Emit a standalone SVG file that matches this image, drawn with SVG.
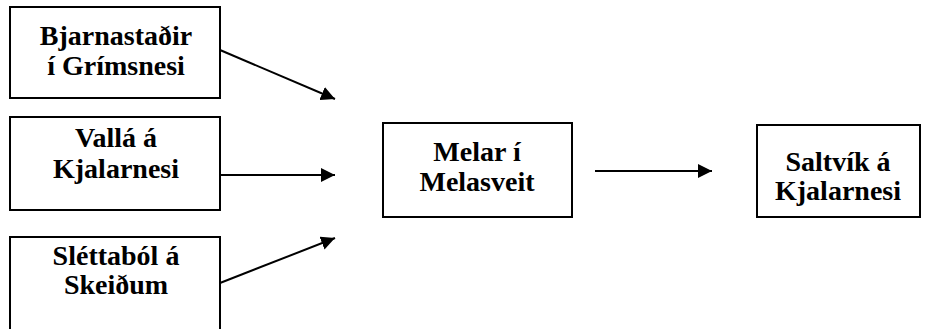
<svg xmlns="http://www.w3.org/2000/svg" width="933" height="329" viewBox="0 0 933 329">
<style>
.box{fill:#fff;stroke:#000;stroke-width:2}
.t{font-family:"Liberation Serif","Times New Roman",serif;font-weight:bold;font-size:28px;text-anchor:middle;fill:#000}
.c{stroke:#000;stroke-width:2;fill:none;marker-end:url(#ah)}
</style>
<defs>
<marker id="ah" viewBox="0 0 10 10" refX="10" refY="5" markerWidth="7" markerHeight="7" orient="auto" markerUnits="strokeWidth">
<path d="M0,0 L10,5 L0,10 z" fill="#000"/>
</marker>
</defs>
<rect width="933" height="329" fill="#fff"/>
<g id="n1"><rect class="box" x="10" y="7" width="210" height="91"/><text class="t" x="116" y="45">Bjarnastaðir</text><text class="t" x="116" y="75">í Grímsnesi</text></g>
<g id="n2"><rect class="box" x="10" y="117" width="210" height="93"/><text class="t" x="116" y="147">Vallá á</text><text class="t" x="116" y="178">Kjalarnesi</text></g>
<g id="n3"><rect class="box" x="10" y="237" width="210" height="100"/><text class="t" x="116" y="265">Sléttaból á</text><text class="t" x="116" y="294">Skeiðum</text></g>
<g id="n4"><rect class="box" x="383" y="123" width="189" height="94"/><text class="t" x="477" y="161">Melar í</text><text class="t" x="477" y="191">Melasveit</text></g>
<g id="n5"><rect class="box" x="757" y="125" width="163" height="92"/><text class="t" x="838" y="171">Saltvík á</text><text class="t" x="838" y="200">Kjalarnesi</text></g>
<g id="connectors">
<line class="c" x1="220" y1="50" x2="335" y2="99"/>
<line class="c" x1="220" y1="175" x2="335" y2="175"/>
<line class="c" x1="220" y1="283" x2="335" y2="238"/>
<line class="c" x1="595" y1="171" x2="712" y2="171"/>
</g>
</svg>
